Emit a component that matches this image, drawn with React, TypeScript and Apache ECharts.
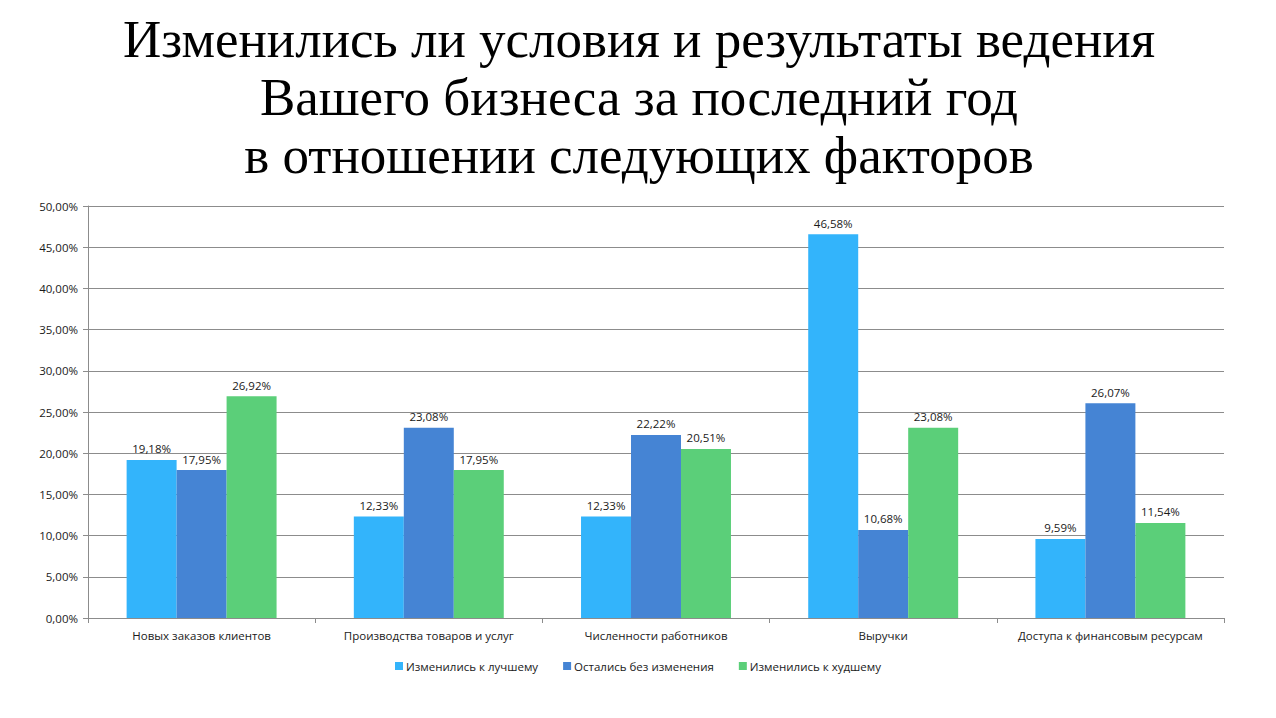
import React, { useEffect, useRef } from "react";
import * as echarts from "echarts";

const categories = [
  "Новых заказов клиентов",
  "Производства товаров и услуг",
  "Численности работников",
  "Выручки",
  "Доступа к финансовым ресурсам",
];
const better = [19.18, 12.33, 12.33, 46.58, 9.59];
const same = [17.95, 23.08, 22.22, 10.68, 26.07];
const worse = [26.92, 17.95, 20.51, 23.08, 11.54];
const seriesNames = ["Изменились к лучшему", "Остались без изменения", "Изменились к худшему"];
const colors = ["#33b4fb", "#4584d4", "#5bcf79"];
const titleText = "Изменились ли условия и результаты ведения\nВашего бизнеса за последний год\nв отношении следующих факторов";

const fmt = (v: number) => v.toFixed(2).replace(".", ",") + "%";
const font = "'Open Sans', 'Noto Sans', sans-serif";

export default function App() {
  const ref = useRef<HTMLDivElement>(null);
  useEffect(() => {
    document.body.style.margin = "0";
    const chart = echarts.init(ref.current!, null, { renderer: "svg" });
    const mk = (name: string, data: number[], color: string) => ({
      name,
      type: "bar",
      data,
      barGap: "0%",
      barCategoryGap: "34%",
      itemStyle: { color },
      label: {
        show: true,
        position: "top",
        distance: 5,
        color: "#1a1a1a",
        fontSize: 11.5,
        fontFamily: font,
        formatter: (p: any) => fmt(p.value),
      },
    });
    chart.setOption({
      animation: false,
      backgroundColor: "#ffffff",
      graphic: [
        {
          type: "text",
          x: 639,
          y: 10,
          style: {
            text: titleText,
            textAlign: "center",
            textVerticalAlign: "top",
            fontFamily: "'Liberation Serif', 'Times New Roman', serif",
            fontSize: 53,
            lineHeight: 58,
            fill: "#000",
          },
        },
      ],
      legend: {
        top: 655,
        left: "center",
        itemWidth: 8,
        itemHeight: 8,
        itemGap: 25,
        icon: "rect",
        textStyle: { fontSize: 11.5, fontFamily: font, color: "#1a1a1a", padding: [0, 0, 0, -2] },
        data: seriesNames,
      },
      grid: { left: 88, right: 52, top: 206, bottom: 100, containLabel: false },
      xAxis: {
        type: "category",
        data: categories,
        axisLine: { lineStyle: { color: "#8c8c8c" } },
        axisTick: { show: true, length: 5, lineStyle: { color: "#8c8c8c" } },
        axisLabel: { fontSize: 11.5, fontFamily: font, color: "#1a1a1a", margin: 11, interval: 0 },
      },
      yAxis: {
        type: "value",
        min: 0,
        max: 50,
        interval: 5,
        axisLine: { show: true, lineStyle: { color: "#8c8c8c" } },
        axisTick: { show: true, length: 5, lineStyle: { color: "#8c8c8c" } },
        splitLine: { lineStyle: { color: "#8c8c8c" } },
        axisLabel: {
          fontSize: 11.5,
          fontFamily: font,
          color: "#1a1a1a",
          margin: 10,
          formatter: (v: number) => fmt(v),
        },
      },
      series: [mk(seriesNames[0], better, colors[0]), mk(seriesNames[1], same, colors[1]), mk(seriesNames[2], worse, colors[2])],
    });
    return () => chart.dispose();
  }, []);
  return <div ref={ref} style={{ width: 1276, height: 718 }} />;
}
